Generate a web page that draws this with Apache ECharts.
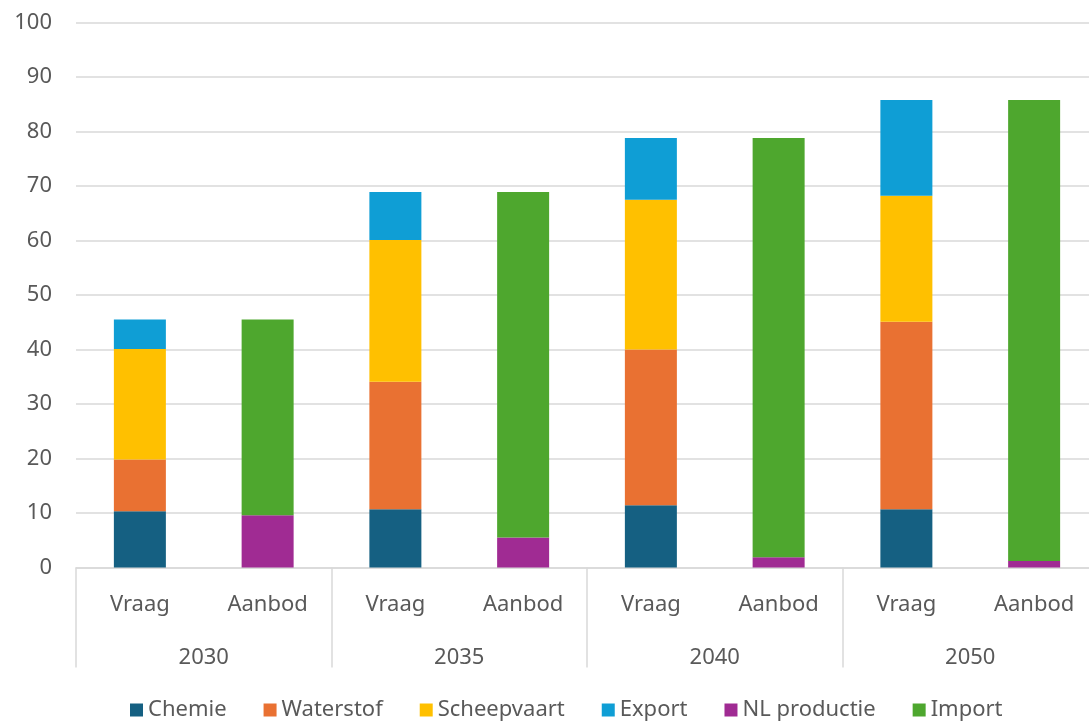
<!DOCTYPE html>
<html>
<head>
<meta charset="utf-8">
<script src="https://cdn.jsdelivr.net/npm/echarts@6/dist/echarts.min.js"></script>
<style>
  html, body { margin: 0; padding: 0; background: #fff; }
  #chart { width: 1089px; height: 721px; }
</style>
</head>
<body>
<div id="chart"></div>
<script>
// categories
var subCats = ['Vraag', 'Aanbod', 'Vraag', 'Aanbod', 'Vraag', 'Aanbod', 'Vraag', 'Aanbod']
var years = ['2030', '2035', '2040', '2050']

// series values (null = no bar in that column)
var chemie = [10.3, null, 10.7, null, 11.4, null, 10.7, null]
var waterstof = [9.5, null, 23.4, null, 28.6, null, 34.4, null]
var scheepvaart = [20.3, null, 26.0, null, 27.5, null, 23.1, null]
var exportVals = [5.4, null, 8.8, null, 11.3, null, 17.6, null]
var nlProductie = [null, 9.6, null, 5.5, null, 1.9, null, 1.2]
var importVals = [null, 35.9, null, 63.4, null, 76.9, null, 84.6]

var seriesNames = ['Chemie', 'Waterstof', 'Scheepvaart', 'Export', 'NL productie', 'Import']
var seriesData = [chemie, waterstof, scheepvaart, exportVals, nlProductie, importVals]
var colors = ['#156082', '#E97132', '#FFC000', '#0F9ED5', '#A02B93', '#4EA72E']

var font = 'Noto Sans, Roboto, sans-serif'
var textColor = '#595959'
var lineColor = '#d9d9d9'

var myChart = echarts.init(document.getElementById('chart'))

var option = {
  backgroundColor: '#ffffff',
  animation: false,
  color: colors,
  grid: {
    left: 76,
    width: 1022,
    top: 22.5,
    bottom: 153.5,
    containLabel: false,
    outerBoundsMode: 'none'
  },
  legend: {
    bottom: 0,
    left: 130,
    padding: 0,
    itemWidth: 13,
    itemHeight: 13,
    itemGap: 37,
    icon: 'rect',
    textStyle: { color: textColor, fontSize: 22, fontFamily: font },
    data: seriesNames
  },
  xAxis: [
    {
      type: 'category',
      data: subCats,
      position: 'bottom',
      axisLine: { show: true, lineStyle: { color: lineColor, width: 1.5 } },
      axisTick: { show: false },
      axisLabel: { color: textColor, fontSize: 22, fontFamily: font, margin: 26 }
    },
    {
      type: 'category',
      data: years,
      position: 'bottom',
      axisLine: { show: false },
      axisTick: { show: true, length: 100, interval: 0, lineStyle: { color: lineColor, width: 1.5 } },
      axisLabel: { color: textColor, fontSize: 22, fontFamily: font, margin: 79 }
    }
  ],
  yAxis: {
    type: 'value',
    min: 0,
    max: 100,
    interval: 10,
    axisLine: { show: false },
    axisTick: { show: false },
    axisLabel: { color: textColor, fontSize: 22, fontFamily: font, margin: 24 },
    splitLine: { lineStyle: { color: lineColor, width: 1.5 } }
  },
  series: seriesNames.map(function(name, i) {
    return {
      name: name,
      type: 'bar',
      stack: 'total',
      barWidth: 52,
      xAxisIndex: 0,
      data: seriesData[i]
    }
  })
}

option && myChart.setOption(option)
</script>
</body>
</html>
